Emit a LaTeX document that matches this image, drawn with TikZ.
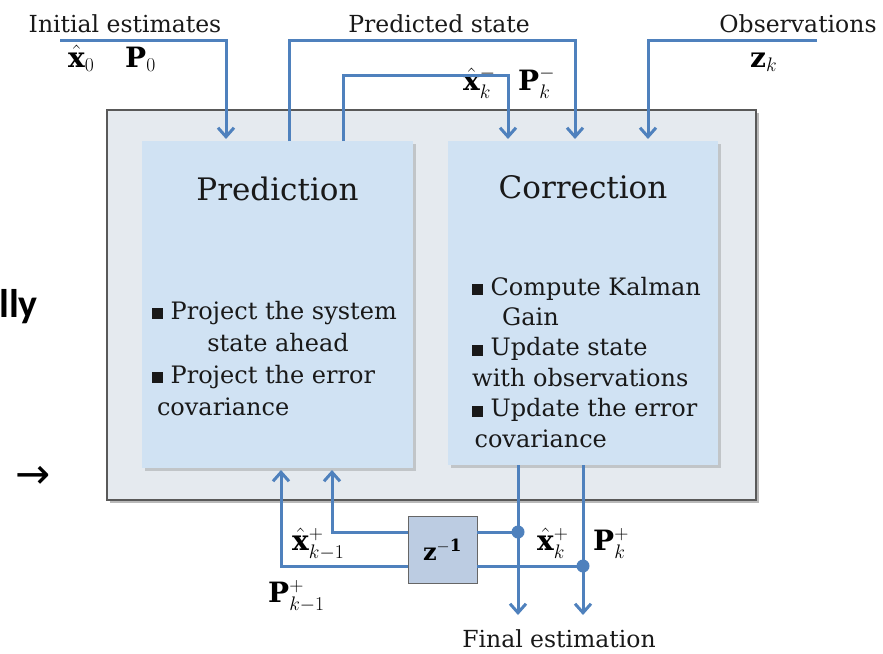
\RequirePackage{fix-cm}
\documentclass[tikz,border=0pt]{standalone}
\usepackage{amsmath,amssymb}
\usepackage{fontspec}
\setmainfont{DejaVu Serif}
\newfontfamily\slidefont{Carlito}
\newfontfamily\arrowfont{DejaVu Sans}
\usepackage{tikz}
\usetikzlibrary{calc}
\usetikzlibrary{arrows.meta,shadows}
\usepackage{xcolor}

\definecolor{flowblue}{RGB}{79,129,189}
\definecolor{framefill}{RGB}{229,234,239}
\definecolor{panelfill}{RGB}{208,226,243}
\definecolor{delayfill}{RGB}{188,204,226}
\newcommand{\sqb}{\rule{0.45em}{0.45em}}

\begin{document}
\begin{tikzpicture}[x=1pt,y=-1pt,
flow/.style={draw=flowblue,line width=3pt,-{Straight Barb[length=9pt,width=16pt]},shorten >=2pt},
link/.style={draw=flowblue,line width=3pt},
frame/.style={fill=framefill,draw=black!65,line width=1.2pt,minimum width=649pt,minimum height=390pt,outer sep=0pt,
  drop shadow={shadow xshift=3pt,shadow yshift=-3pt,opacity=.55}},
panel/.style={fill=panelfill,draw=none,outer sep=0pt,
  drop shadow={shadow xshift=3pt,shadow yshift=-3pt,opacity=.35}},
delaybox/.style={fill=delayfill,draw=black!60,line width=1pt,minimum width=69pt,minimum height=67pt,outer sep=0pt},
title/.style={font=\fontsize{31}{34}\selectfont,text=black!90,inner sep=0pt},
body/.style={font=\fontsize{24}{32}\selectfont,text=black!90,align=left,inner sep=0pt},
lbl/.style={font=\fontsize{23.5}{26}\selectfont,text=black!90,inner sep=0pt},
sym/.style={font=\fontsize{28}{30}\selectfont,inner sep=0pt}]
\useasboundingbox (0,0) rectangle (883,653);

\node [frame] (frame) at (431.5,305) {};
\node [panel,minimum width=271pt,minimum height=327pt] (pred) at (277.5,304.5) {};
\node [panel,minimum width=270pt,minimum height=324pt] (corr) at (583,303) {};

\node [title,anchor=base] (predtitle) at ($(pred.north)+(0,59)$) {Prediction};
\node [title,anchor=base] (corrtitle) at ($(corr.north)+(0,57)$) {Correction};
\node [body,anchor=base west] (predtext) at ($(pred.north west)+(10,274)$)
{\sqb{} Project the system\\ \hspace*{2.3em}state ahead\\ \sqb{} Project the error\\ \hspace*{0.2em}covariance};
\node [body,anchor=base west,font=\fontsize{24}{30.4}\selectfont] (corrtext) at ($(corr.north west)+(24,306)$)
{\sqb{} Compute Kalman\\ \hspace*{1.25em}Gain\\ \sqb{} Update state\\ with observations\\ \sqb{} Update the error\\ \hspace*{0.1em}covariance};

\node [lbl,anchor=base] (init) at (125,32) {Initial estimates};
\node [lbl,anchor=base] (pstate) at (439,32) {Predicted state};
\node [lbl,anchor=base] (obs) at (798,32) {Observations};
\node [lbl,anchor=base] (final) at (559,647) {Final estimation};

\node [sym,anchor=base west] (x0) at (68,67) {$\hat{\mathbf{x}}_0$};
\node [sym,anchor=base west] (P0) at (125,67) {$\mathbf{P}_0$};
\node [sym,anchor=base west] (xprior) at (463,90) {$\hat{\mathbf{x}}_k^-$};
\node [sym,anchor=base west] (Pprior) at (518,90) {$\mathbf{P}_k^-$};
\node [sym,anchor=base west] (zk) at (750,67) {$\mathbf{z}_k$};
\node [sym,anchor=base west] (xpost1) at (292,550) {$\hat{\mathbf{x}}_{k-1}^+$};
\node [sym,anchor=base west] (Ppost1) at (268,602) {$\mathbf{P}_{k-1}^+$};
\node [sym,anchor=base west] (xpost) at (537,550) {$\hat{\mathbf{x}}_k^+$};
\node [sym,anchor=base west] (Ppost) at (593,550) {$\mathbf{P}_k^+$};

\node [delaybox,font=\fontsize{24}{26}\selectfont] (zbox) at (442.5,549.5) {$\mathbf{z}^{\mathbf{-1}}$};

\coordinate (initstart) at (60,40);
\coordinate (obsstart) at (817,40);
\coordinate (xdot) at (518,532);
\coordinate (Pdot) at (583,566);
\coordinate (outx) at (518,617);
\coordinate (outP) at (583,617);

\draw [flow] (initstart) -| ($(pred.north west)+(84,0)$);
\draw [flow] ($(pred.north west)+(147,0)$) -- ++(0,-101) -| ($(corr.north west)+(127,0)$);
\draw [flow] ($(pred.north west)+(201,0)$) -- ++(0,-66) -| ($(corr.north west)+(60,0)$);
\draw [flow] (obsstart) -| ($(corr.north west)+(200,0)$);

\draw [flow] ($(corr.south west)+(70,0)$) -- (outx);
\draw [flow] ($(corr.south west)+(135,0)$) -- (outP);
\draw [link] (xdot) -- (zbox.east |- xdot);
\draw [link] (Pdot) -- (zbox.east |- Pdot);
\draw [flow] (zbox.west |- xdot) -| ($(pred.south west)+(190,0)$);
\draw [flow] (zbox.west |- Pdot) -| ($(pred.south west)+(139,0)$);
\fill [flowblue] (xdot) circle (6.5pt) (Pdot) circle (6.5pt);

\node [font=\slidefont\bfseries\fontsize{40}{40}\selectfont,anchor=base east,inner sep=0pt] (cut) at (38,317) {lly};
\node [font=\arrowfont\fontsize{42}{42}\selectfont,inner sep=0pt] (cutarrow) at (33.5,477) {→};
\end{tikzpicture}
\end{document}
